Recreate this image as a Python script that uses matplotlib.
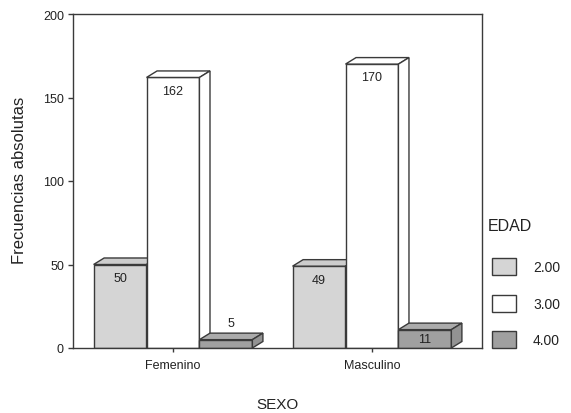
import matplotlib.pyplot as plt
from matplotlib.patches import Polygon, Rectangle

plt.rcParams['font.family'] = ['Liberation Sans', 'DejaVu Sans']

# datos
sexo = ['Femenino', 'Masculino']
edad = ['2.00', '3.00', '4.00']
frec_fem = [50, 162, 5]
frec_mas = [49, 170, 11]
frecuencias = [frec_fem, frec_mas]

# colores de las caras (frente, arriba, lado)
c_front = ['#d5d5d5', '#ffffff', '#a0a0a0']
c_top = ['#cdcdcd', '#ffffff', '#ababab']
c_side = ['#bdbdbd', '#ffffff', '#939393']
ec = '#3a3a3a'

W, H = 571, 414
fig = plt.figure(figsize=(W / 100, H / 100), dpi=100)


def fx(px):
    return px / W


def fy(py):
    return 1 - py / H


ax = fig.add_axes([fx(73), fy(349), fx(482) - fx(73), fy(15) - fy(349)])
ax.set_xlim(0.4975, 2.553)
ax.set_ylim(0, 200)

w = 0.266      # ancho de barra
dx, dy = 0.053, 3.9  # profundidad 3D

for i, vals in enumerate(frecuencias):
    for j, v in enumerate(vals):
        x0 = i + 1 + (j - 1.5) * w
        x1 = x0 + w
        z = 2 + i * 3 + j
        ax.bar(x0, v, w, align='edge', color=c_front[j], edgecolor=ec,
               linewidth=1, zorder=z)
        ax.add_patch(Polygon([(x0, v), (x1, v), (x1 + dx, v + dy), (x0 + dx, v + dy)],
                             closed=True, fc=c_top[j], ec=ec, lw=1, zorder=z))
        ax.add_patch(Polygon([(x1, 0), (x1 + dx, dy), (x1 + dx, v + dy), (x1, v)],
                             closed=True, fc=c_side[j], ec=ec, lw=1, zorder=z))
        if v >= 10:
            ax.text(x0 + w / 2, max(v - 8, v / 2), str(v), ha='center', va='center',
                    fontsize=9, color='#222222', zorder=20)
        else:
            ax.text(x0 + w / 2 + dx / 2, v + 10, str(v), ha='center', va='center',
                    fontsize=9, color='#222222', zorder=20)

ax.set_yticks([0, 50, 100, 150, 200])
ax.set_xticks([1, 2])
ax.set_xticklabels(sexo)
ax.tick_params(axis='y', labelsize=9, length=3.5, width=1, color=ec,
               labelcolor='#222222', pad=3)
ax.tick_params(axis='x', labelsize=9, length=3, width=1, color=ec,
               labelcolor='#222222', pad=5)
for s in ax.spines.values():
    s.set_color(ec)
    s.set_linewidth(1)
    s.set_zorder(30)

fig.text(fx(20), fy(180), 'Frecuencias absolutas', rotation=90, ha='center',
         va='center', fontsize=12, color='#222222')
fig.text(fx(277), fy(405), 'SEXO', ha='center', va='center', fontsize=11,
         color='#222222')

# leyenda
fig.text(fx(488), fy(227), 'EDAD', ha='left', va='center', fontsize=11.5,
         color='#222222')
ys = [259, 296, 332]
for j, lab in enumerate(edad):
    fig.add_artist(Rectangle((fx(492), fy(ys[j] + 17)), fx(24), 17 / H,
                             transform=fig.transFigure, fc=c_front[j], ec=ec, lw=1))
    fig.text(fx(533), fy(ys[j] + 9), lab, ha='left', va='center', fontsize=10,
             color='#222222')

fig.savefig('out.png', dpi=100)
